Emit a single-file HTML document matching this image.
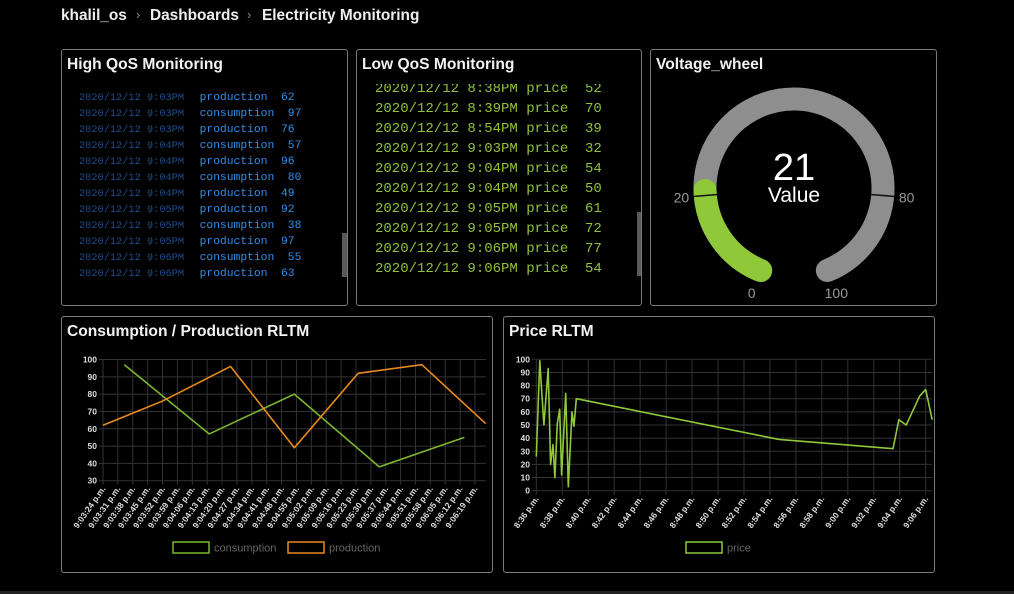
<!DOCTYPE html>
<html><head><meta charset="utf-8">
<style>
body{margin:0;width:1014px;height:594px;background:#000;overflow:hidden;font-family:"Liberation Sans",sans-serif;color:#fff;position:relative}
.crumb{position:absolute;top:7px;font-size:15.4px;font-weight:bold;color:#eee}
.sep{position:absolute;top:7px;color:#888;font-size:13px}
.panel{position:absolute;border:1px solid #7a7a7a;border-radius:3px;background:#000;overflow:hidden}
.ptitle{position:absolute;left:5px;top:6px;font-size:15.6px;font-weight:bold;color:#f2f2f2}
.hrow{position:absolute;left:17px;font-family:"Liberation Mono",monospace;white-space:pre}
.hrow .d{font-size:10.3px;color:#1d4f8c}
.hrow .n{font-size:11.3px;color:#3290ea;margin-left:6px}
.lrow{position:absolute;left:18px;font-family:"Liberation Mono",monospace;font-size:14px;color:#8fc23a;white-space:pre}
.sb{position:absolute;background:#5a5a5a}
svg text{font-family:"Liberation Sans",sans-serif}
</style></head><body>
<div class="crumb" style="left:61px">khalil_os</div>
<div class="sep" style="left:136px">›</div>
<div class="crumb" style="left:150px">Dashboards</div>
<div class="sep" style="left:247px">›</div>
<div class="crumb" style="left:262px">Electricity Monitoring</div>

<div class="panel" style="left:61px;top:49px;width:285px;height:255px">
 <div class="ptitle">High QoS Monitoring</div>
 <div id="hlist"></div>
 <div class="sb" style="left:280px;top:183px;width:5px;height:44px"></div>
</div>
<div class="panel" style="left:356px;top:49px;width:284px;height:255px">
 <div class="ptitle">Low QoS Monitoring</div>
 <div style="position:absolute;left:0;top:34px;width:280px;height:215px;overflow:hidden" id="llist"></div>
 <div class="sb" style="left:280px;top:162px;width:4px;height:64px"></div>
</div>
<div class="panel" style="left:650px;top:49px;width:285px;height:255px">
 <div class="ptitle">Voltage_wheel</div>
 <svg width="285" height="255" style="position:absolute;left:0;top:0" id="gauge"></svg>
</div>
<div class="panel" style="left:61px;top:316px;width:430px;height:255px">
 <div class="ptitle">Consumption / Production RLTM</div>
</div>
<div class="panel" style="left:503px;top:316px;width:430px;height:255px">
 <div class="ptitle">Price RLTM</div>
</div>
<svg id="charts" width="1014" height="594" style="position:absolute;left:0;top:0"></svg>
<div style="position:absolute;left:0;top:591px;width:1014px;height:3px;background:#222"></div>

<script>
// ---- data ----
const highDates=["9:03PM","9:03PM","9:03PM","9:04PM","9:04PM","9:04PM","9:04PM","9:05PM","9:05PM","9:05PM","9:06PM","9:06PM"];
const highNames=["production","consumption","production","consumption","production","consumption","production","production","consumption","production","consumption","production"];
const highVals=[62,97,76,57,96,80,49,92,38,97,55,63];
const lowDates=["8:38PM","8:39PM","8:54PM","9:03PM","9:04PM","9:04PM","9:05PM","9:05PM","9:06PM","9:06PM"];
const lowVals=[52,70,39,32,54,50,61,72,77,54];
const gaugeValue=21;
const gaugeTicks=[0,20,80,100];
const cpTickLabels=["9:03:24","9:03:31","9:03:38","9:03:45","9:03:52","9:03:59","9:04:06","9:04:13","9:04:20","9:04:27","9:04:34","9:04:41","9:04:48","9:04:55","9:05:02","9:05:09","9:05:16","9:05:23","9:05:30","9:05:37","9:05:44","9:05:51","9:05:58","9:06:05","9:06:12","9:06:19"];
const cpYTicks=[30,40,50,60,70,80,90,100];
const prodTimes=["9:03:24","9:03:52","9:04:24","9:04:54","9:05:24","9:05:54","9:06:24"];
const prodVals=[62,76,96,49,92,97,63];
const consTimes=["9:03:34","9:04:14","9:04:54","9:05:34","9:06:14"];
const consVals=[97,57,80,38,55];
const prTickLabels=["8:36","8:38","8:40","8:42","8:44","8:46","8:48","8:50","8:52","8:54","8:56","8:58","9:00","9:02","9:04","9:06"];
const prYTicks=[0,10,20,30,40,50,60,70,80,90,100];
const priceTimes=["8:36:00","8:36:16","8:36:35","8:36:55","8:37:06","8:37:17","8:37:26","8:37:37","8:37:48","8:37:57","8:38:16","8:38:28","8:38:45","8:38:54","8:39:05","8:54:42","9:03:29","9:03:56","9:04:30","9:05:01","9:05:32","9:06:00","9:06:30"];
const priceVals=[26,99,50,93,20,35,10,51,62,12,74,3,60,49,70,39,32,54,50,61,72,77,54];

const NS="http://www.w3.org/2000/svg";
function secs(t){const p=t.split(":").map(Number);return p[0]*3600+p[1]*60+(p[2]||0);}
function mk(parent,tag,attrs){const e=document.createElementNS(NS,tag);for(const k in attrs)e.setAttribute(k,attrs[k]);parent.appendChild(e);return e;}

// lists
const hl=document.getElementById('hlist');
highVals.forEach((v,i)=>{const r=document.createElement('div');r.className='hrow';r.style.top=(37+i*16)+'px';


r.innerHTML='<span class="d">2020/12/12 '+highDates[i]+'</span> <span class="n">'+highNames[i]+'  '+v+'</span>';hl.appendChild(r);});
const ll=document.getElementById('llist');
lowVals.forEach((v,i)=>{const r=document.createElement('div');r.className='lrow';r.style.top=(-3+i*20)+'px';


r.textContent='2020/12/12 '+lowDates[i]+' price  '+v;ll.appendChild(r);});

// gauge
(function(){const g=document.getElementById('gauge');const cx=143,cy=138,r=89,start=202,span=316;
function pt(a,rr){const t=a*Math.PI/180;return [cx+rr*Math.sin(t),cy-rr*Math.cos(t)];}
function arc(a0,a1){const p0=pt(a0,r),p1=pt(a1,r);const large=(a1-a0)>180?1:0;return `M${p0[0]},${p0[1]} A${r},${r} 0 ${large} 1 ${p1[0]},${p1[1]}`;}
const bg=mk(g,'path',{d:arc(start,start+span),stroke:'#8e8e8e','stroke-width':23,fill:'none','stroke-linecap':'round'});

const fg=mk(g,'path',{d:arc(start,start+span*gaugeValue/100),stroke:'#8fc93a','stroke-width':23,fill:'none','stroke-linecap':'round'});

gaugeTicks.forEach(t=>{const a=start+span*t/100;
 if(t==20||t==80){const a1=pt(a,r-12),a2=pt(a,r+12);const l=mk(g,'line',{x1:a1[0],y1:a1[1],x2:a2[0],y2:a2[1],stroke:'#111','stroke-width':1.5});}
 const p=pt(a,r+24);const tx=mk(g,'text',{x:p[0],y:p[1]+5,'text-anchor':'middle','font-size':14,fill:'#999'});tx.textContent=t;
 });
const v=mk(g,'text',{x:cx,y:cy-8,'text-anchor':'middle','font-size':38,fill:'#fff'});v.textContent=gaugeValue;

const vl=mk(g,'text',{x:cx,y:cy+14,'text-anchor':'middle','font-size':21,fill:'#fff'});vl.textContent='Value';

})();

const svg=document.getElementById('charts');
function chart(o){
 const x=t=>o.x0+(secs(t)-o.t0)*o.pxs;
 const y=v=>o.y0-(v-o.vmin)/(o.vmax-o.vmin)*(o.y0-o.y1);
 o.yTicks.forEach(v=>{const l=mk(svg,'line',{x1:o.xl-4,x2:o.xr,y1:y(v),y2:y(v),stroke:'#333','stroke-width':1});
  
  const t=mk(svg,'text',{x:o.xl-6,y:y(v)+3,'text-anchor':'end','font-size':8.5,'font-weight':'bold',fill:'#ddd'});t.textContent=v;
  });
 o.xTicks.forEach(s=>{const xx=x(s+(s.split(':').length==2?':00':''));const l=mk(svg,'line',{x1:xx,x2:xx,y1:o.y1,y2:o.y0+4,stroke:'#333','stroke-width':1});
  
  const t=mk(svg,'text',{x:xx+3,y:o.y0+8,'text-anchor':'end','font-size':8.5,'font-weight':'bold',fill:'#ddd',transform:`rotate(-55 ${xx+3} ${o.y0+8})`});t.textContent=s+' p.m.';
  });
 o.series.forEach(se=>{const pts=se.t.map((t,i)=>x(t)+','+y(se.v[i])).join(' ');
  const p=mk(svg,'polyline',{points:pts,fill:'none',stroke:se.c,'stroke-width':1.6,'stroke-linejoin':'round'});
  
  const b=mk(svg,'rect',{x:se.lx,y:o.ly,width:36,height:11,fill:'none',stroke:se.c,'stroke-width':1.5});
  
  const t=mk(svg,'text',{x:se.lx+41,y:o.ly+9.5,'font-size':11,fill:'#666'});t.textContent=se.n;
  });
}
chart({x0:103,t0:secs("9:03:24"),pxs:14.88/7,y0:480.7,y1:359.5,vmin:30,vmax:100,xl:103,xr:486,yTicks:cpYTicks,xTicks:cpTickLabels,ly:542,
 series:[{n:'consumption',t:consTimes,v:consVals,c:'#7cb52e',lx:173},{n:'production',t:prodTimes,v:prodVals,c:'#e88a1c',lx:288}]});
chart({x0:536.3,t0:secs("8:36:00"),pxs:12.98/60,y0:490.7,y1:359.3,vmin:0,vmax:100,xl:536,xr:932,yTicks:prYTicks,xTicks:prTickLabels,ly:542,
 series:[{n:'price',t:priceTimes,v:priceVals,c:'#8fc93a',lx:686}]});
</script>
</body></html>
